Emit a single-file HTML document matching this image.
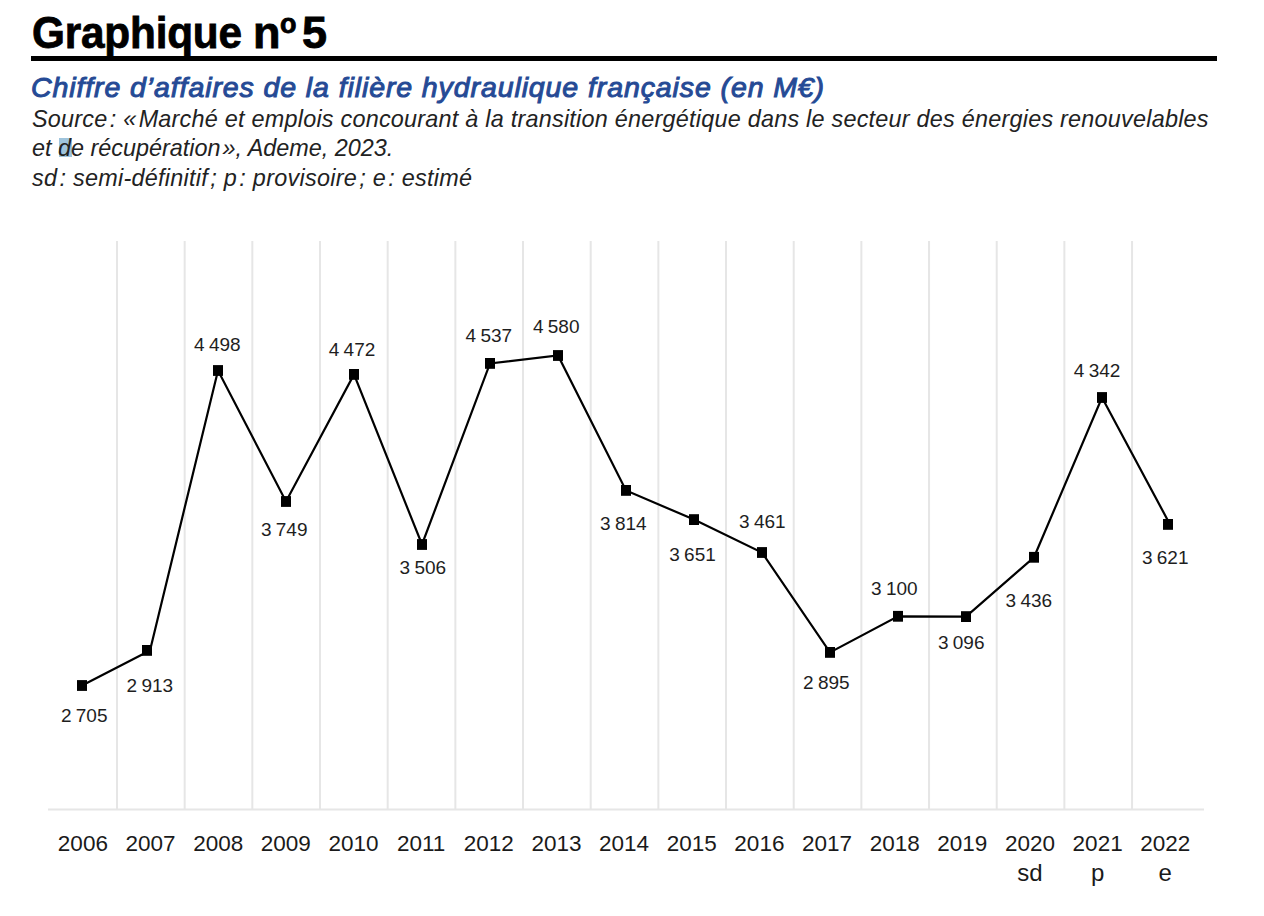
<!DOCTYPE html>
<html><head><meta charset="utf-8">
<style>
html,body{margin:0;padding:0;background:#fff;}
body{width:1264px;height:916px;position:relative;overflow:hidden;font-family:"Liberation Sans",sans-serif;}
.t{position:absolute;white-space:nowrap;line-height:1;}
#title{left:0;top:10px;font-size:45px;font-weight:bold;color:#000;-webkit-text-stroke:0.8px #000;}
#title span{position:absolute;top:0;}
#rule{position:absolute;left:31px;top:55.5px;width:1186px;height:5px;background:#000;}
#sub{left:31px;top:73px;font-size:28.5px;font-weight:normal;font-style:italic;color:#254a95;-webkit-text-stroke:1px #254a95;letter-spacing:0.9px;}
.src{font-size:23.4px;font-style:italic;color:#222;}
#hl{position:absolute;left:59px;top:138px;width:13px;height:19px;background:#9fc4dc;}
svg{position:absolute;left:0;top:0;}
.v{font-size:19px;fill:#1e1e1e;text-anchor:middle;}
.yr{font-size:22.5px;fill:#1a1a1a;text-anchor:middle;}
</style></head><body>
<div class="t" id="title"><span style="left:31.5px;letter-spacing:-0.2px;transform:scaleX(0.94);transform-origin:0 0">Graphique</span><span style="left:253px">n</span><span style="left:280px;font-size:27px;top:0.5px">o</span><span style="left:302px">5</span></div>
<div id="rule"></div>
<div class="t" id="sub">Chiffre d’affaires de la filière hydraulique française (en M€)</div>
<div id="hl"></div>
<div class="t src" id="s1" style="left:32px;top:108.3px;letter-spacing:0.237px;">Source&#8202;: «&#8202;Marché et emplois concourant à la transition énergétique dans le secteur des énergies renouvelables</div>
<div class="t src" id="s2" style="left:32px;top:137.3px;">et de récupération&#8202;», Ademe, 2023.</div>
<div class="t src" id="s3" style="left:32px;top:166.6px;letter-spacing:0.27px;">sd&#8202;: semi-définitif&#8202;; p&#8202;: provisoire&#8202;; e&#8202;: estimé</div>
<svg width="1264" height="916" viewBox="0 0 1264 916">
<rect x="116.00" y="241" width="2" height="568" fill="#e6e6e6"/><rect x="183.67" y="241" width="2" height="568" fill="#e6e6e6"/><rect x="251.34" y="241" width="2" height="568" fill="#e6e6e6"/><rect x="319.01" y="241" width="2" height="568" fill="#e6e6e6"/><rect x="386.68" y="241" width="2" height="568" fill="#e6e6e6"/><rect x="454.35" y="241" width="2" height="568" fill="#e6e6e6"/><rect x="522.02" y="241" width="2" height="568" fill="#e6e6e6"/><rect x="589.69" y="241" width="2" height="568" fill="#e6e6e6"/><rect x="657.36" y="241" width="2" height="568" fill="#e6e6e6"/><rect x="725.03" y="241" width="2" height="568" fill="#e6e6e6"/><rect x="792.70" y="241" width="2" height="568" fill="#e6e6e6"/><rect x="860.37" y="241" width="2" height="568" fill="#e6e6e6"/><rect x="928.04" y="241" width="2" height="568" fill="#e6e6e6"/><rect x="995.71" y="241" width="2" height="568" fill="#e6e6e6"/><rect x="1063.38" y="241" width="2" height="568" fill="#e6e6e6"/><rect x="1131.05" y="241" width="2" height="568" fill="#e6e6e6"/>
<rect x="48" y="808.5" width="1156" height="2" fill="#e6e6e6"/>
<polyline points="82,685.5 150,650.4 218,370.5 286,501.5 354,374.4 422,544.5 490,363.4 558,355.5 626,490.4 694,519.6 762,552.5 830,652.4 898,616.3 966,616.6 1034,557.3 1102,397.5 1170,524.4" fill="none" stroke="#000" stroke-width="2.2" stroke-linejoin="miter"/>
<rect x="77" y="680.1" width="10" height="10.8" fill="#000"/><rect x="142" y="645.0" width="10" height="10.8" fill="#000"/><rect x="213" y="365.1" width="10" height="10.8" fill="#000"/><rect x="281" y="496.1" width="10" height="10.8" fill="#000"/><rect x="349" y="369.0" width="10" height="10.8" fill="#000"/><rect x="417" y="539.1" width="10" height="10.8" fill="#000"/><rect x="485" y="358.0" width="10" height="10.8" fill="#000"/><rect x="553" y="350.1" width="10" height="10.8" fill="#000"/><rect x="621" y="485.0" width="10" height="10.8" fill="#000"/><rect x="689" y="514.2" width="10" height="10.8" fill="#000"/><rect x="757" y="547.1" width="10" height="10.8" fill="#000"/><rect x="825" y="647.0" width="10" height="10.8" fill="#000"/><rect x="893" y="610.9" width="10" height="10.8" fill="#000"/><rect x="961" y="611.2" width="10" height="10.8" fill="#000"/><rect x="1029" y="551.9" width="10" height="10.8" fill="#000"/><rect x="1097" y="392.1" width="10" height="10.8" fill="#000"/><rect x="1163" y="519.0" width="10" height="10.8" fill="#000"/>
<text x="84.2" y="721.6" class="v">2<tspan dx="-1">&#160;</tspan>705</text><text x="149.8" y="691.6" class="v">2<tspan dx="-1">&#160;</tspan>913</text><text x="217.4" y="351.3" class="v">4<tspan dx="-1">&#160;</tspan>498</text><text x="284.2" y="536" class="v">3<tspan dx="-1">&#160;</tspan>749</text><text x="352" y="355.7" class="v">4<tspan dx="-1">&#160;</tspan>472</text><text x="422.8" y="573.8" class="v">3<tspan dx="-1">&#160;</tspan>506</text><text x="488.9" y="342" class="v">4<tspan dx="-1">&#160;</tspan>537</text><text x="556.2" y="333.2" class="v">4<tspan dx="-1">&#160;</tspan>580</text><text x="623.3" y="529.6" class="v">3<tspan dx="-1">&#160;</tspan>814</text><text x="692.5" y="561.2" class="v">3<tspan dx="-1">&#160;</tspan>651</text><text x="762.3" y="527.8" class="v">3<tspan dx="-1">&#160;</tspan>461</text><text x="826.3" y="688.6" class="v">2<tspan dx="-1">&#160;</tspan>895</text><text x="894.4" y="595.1" class="v">3<tspan dx="-1">&#160;</tspan>100</text><text x="961.2" y="649.1" class="v">3<tspan dx="-1">&#160;</tspan>096</text><text x="1028.9" y="606.7" class="v">3<tspan dx="-1">&#160;</tspan>436</text><text x="1097.1" y="376.9" class="v">4<tspan dx="-1">&#160;</tspan>342</text><text x="1165.2" y="563.9" class="v">3<tspan dx="-1">&#160;</tspan>621</text>
<text x="82.90" y="850.5" class="yr">2006</text><text x="150.55" y="850.5" class="yr">2007</text><text x="218.20" y="850.5" class="yr">2008</text><text x="285.85" y="850.5" class="yr">2009</text><text x="353.50" y="850.5" class="yr">2010</text><text x="421.15" y="850.5" class="yr">2011</text><text x="488.80" y="850.5" class="yr">2012</text><text x="556.45" y="850.5" class="yr">2013</text><text x="624.10" y="850.5" class="yr">2014</text><text x="691.75" y="850.5" class="yr">2015</text><text x="759.40" y="850.5" class="yr">2016</text><text x="827.05" y="850.5" class="yr">2017</text><text x="894.70" y="850.5" class="yr">2018</text><text x="962.35" y="850.5" class="yr">2019</text><text x="1030.00" y="850.5" class="yr">2020</text><text x="1097.65" y="850.5" class="yr">2021</text><text x="1165.30" y="850.5" class="yr">2022</text>
<text x="1030.00" y="881" class="yr" style="font-size:24px">sd</text><text x="1097.65" y="881" class="yr" style="font-size:24px">p</text><text x="1165.30" y="881" class="yr" style="font-size:24px">e</text>
</svg>
</body></html>
